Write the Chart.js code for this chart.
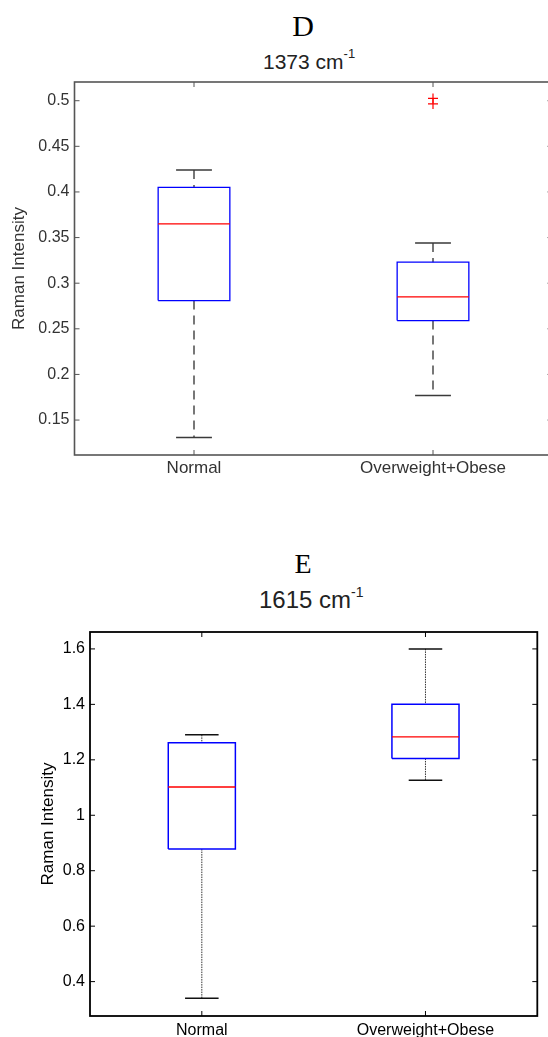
<!DOCTYPE html>
<html>
<head>
<meta charset="utf-8">
<title>Raman Intensity box plots</title>
<script src="https://cdn.jsdelivr.net/npm/chart.js@4.4.0/dist/chart.umd.min.js"></script>
<style>
  html, body { margin: 0; padding: 0; background: #fff; width: 548px; height: 1037px; overflow: hidden; position: relative; }
  canvas { position: absolute; left: 0; }
  #chartD { top: 0; }
  #chartE { top: 540px; }
  .letter { position: absolute; font-family: "Liberation Serif", "Times New Roman", serif; line-height: 1; color: #000; transform: translate(-50%, -50%); white-space: nowrap; }
  .band { position: absolute; font-family: "Liberation Sans", Arial, sans-serif; line-height: 1; white-space: nowrap; color: #222; }
  .band span { position: relative; }
</style>
</head>
<body>
<div class="letter" style="left:303px; top:26px; font-size:30px;">D</div>
<div class="band" style="left:263px; top:50.5px; font-size:21px;">1373 cm<span style="font-size:13px; top:-11px;">-1</span></div>
<canvas id="chartD" width="560" height="500"></canvas>

<div class="letter" style="left:303px; top:564px; font-size:28px;">E</div>
<div class="band" style="left:259px; top:588px; font-size:24px;">1615 cm<span style="font-size:14px; top:-11px;">-1</span></div>
<canvas id="chartE" width="548" height="497"></canvas>

<script>
const groups = ['Normal', 'Overweight+Obese'];

// 1373 cm-1
const lowD = [0.131, 0.177];
const q1D = [0.281, 0.259];
const medD = [0.365, 0.285];
const q3D = [0.405, 0.323];
const highD = [0.424, 0.344];
const outD = [[], [0.4965, 0.5025]];
const ticksD = [0.15, 0.2, 0.25, 0.3, 0.35, 0.4, 0.45, 0.5];

// 1615 cm-1
const lowE = [0.34, 1.126];
const q1E = [0.878, 1.205];
const medE = [1.102, 1.283];
const q3E = [1.262, 1.4];
const highE = [1.29, 1.6];
const outE = [[], []];
const ticksE = [0.4, 0.6, 0.8, 1, 1.2, 1.4, 1.6];

const BOX_HALF = 0.15;
const CAP_HALF = 0.075;

// turn [[x0,y0],[x1,y1]] pairs into one point list, broken by null gaps
function segs(pairs) {
  const pts = [];
  pairs.forEach(([a, b]) => {
    pts.push({x: a[0], y: a[1]}, {x: b[0], y: b[1]}, {x: b[0], y: null});
  });
  return pts;
}

function boxDatasets(low, q1, med, q3, high, out, st) {
  const boxPts = [], medians = [], caps = [], whiskers = [], outliers = [];
  groups.forEach((g, i) => {
    const x = i + 1;
    boxPts.push(
      {x: x - BOX_HALF, y: q1[i]}, {x: x + BOX_HALF, y: q1[i]},
      {x: x + BOX_HALF, y: q3[i]}, {x: x - BOX_HALF, y: q3[i]},
      {x: x - BOX_HALF, y: q1[i]}, {x: x, y: null}
    );
    medians.push([[x - BOX_HALF, med[i]], [x + BOX_HALF, med[i]]]);
    caps.push([[x - CAP_HALF, high[i]], [x + CAP_HALF, high[i]]]);
    caps.push([[x - CAP_HALF, low[i]], [x + CAP_HALF, low[i]]]);
    whiskers.push([[x, high[i]], [x, q3[i]]]);
    whiskers.push([[x, q1[i]], [x, low[i]]]);
    out[i].forEach(v => outliers.push({x: x, y: v}));
  });
  return [
    {data: segs(medians), borderColor: '#ff0000', borderWidth: 1.3},
    {data: boxPts, borderColor: '#0000ff', borderWidth: st.boxWidth, borderJoinStyle: 'miter'},
    {data: segs(caps), borderColor: st.capColor, borderWidth: st.capWidth},
    {data: segs(whiskers), borderColor: st.whiskerColor, borderWidth: st.whiskerWidth, borderDash: st.dash},
    {data: outliers, showLine: false, pointStyle: 'cross', pointRadius: 5, borderColor: '#ff0000', pointBorderColor: '#ff0000', pointBorderWidth: 1.2}
  ];
}

// axes box with inward tick marks on all four sides
const framePlugin = {
  id: 'frame',
  afterDatasetsDraw(chart, args, opts) {
    const {ctx, chartArea: a, scales: {x, y}} = chart;
    ctx.save();
    ctx.strokeStyle = opts.color;
    ctx.lineWidth = opts.tickWidth;
    ctx.beginPath();
    y.ticks.forEach(t => {
      const py = y.getPixelForValue(t.value);
      ctx.moveTo(a.left, py); ctx.lineTo(a.left + opts.tickLength, py);
      ctx.moveTo(a.right, py); ctx.lineTo(a.right - opts.tickLength, py);
    });
    x.ticks.forEach(t => {
      const px = x.getPixelForValue(t.value);
      ctx.moveTo(px, a.bottom); ctx.lineTo(px, a.bottom - opts.tickLength);
      ctx.moveTo(px, a.top); ctx.lineTo(px, a.top + opts.tickLength);
    });
    ctx.stroke();
    ctx.lineWidth = opts.lineWidth;
    ctx.strokeRect(a.left, a.top, a.right - a.left, a.bottom - a.top);
    ctx.restore();
  }
};

function makeChart(id, datasets, cfg) {
  new Chart(document.getElementById(id), {
    type: 'line',
    data: {datasets: datasets},
    plugins: [framePlugin],
    options: {
      responsive: false,
      animation: false,
      events: [],
      layout: {padding: cfg.padding},
      elements: {
        point: {radius: 0},
        line: {tension: 0, fill: false, borderCapStyle: 'butt'}
      },
      plugins: {
        legend: {display: false},
        tooltip: {enabled: false},
        frame: {color: cfg.axisColor, lineWidth: cfg.axisWidth, tickWidth: 1, tickLength: 5}
      },
      scales: {
        x: {
          type: 'linear',
          min: 0.5,
          max: 2.5,
          afterBuildTicks: s => { s.ticks = groups.map((g, i) => ({value: i + 1})); },
          afterFit: s => { s.height = cfg.xHeight; },
          grid: {display: false, drawTicks: false},
          border: {display: false},
          ticks: {
            callback: v => groups[v - 1],
            color: cfg.textColor,
            font: {family: 'Liberation Sans', size: cfg.xFont},
            padding: cfg.xPad,
            maxRotation: 0,
            autoSkip: false
          }
        },
        y: {
          type: 'linear',
          min: cfg.yMin,
          max: cfg.yMax,
          afterBuildTicks: s => { s.ticks = cfg.ticks.map(v => ({value: v})); },
          afterFit: s => { s.width = cfg.yWidth; },
          grid: {display: false, drawTicks: false},
          border: {display: false},
          ticks: {
            callback: v => String(v),
            color: cfg.textColor,
            font: {family: 'Liberation Sans', size: cfg.yFont},
            padding: 5
          },
          title: {
            display: true,
            text: 'Raman Intensity',
            color: cfg.textColor,
            font: {family: 'Liberation Sans', size: 17},
            padding: {top: cfg.titlePad, bottom: 0}
          }
        }
      }
    }
  });
}

makeChart('chartD',
  boxDatasets(lowD, q1D, medD, q3D, highD, outD, {
    boxWidth: 1.3, capColor: '#3a3a3a', capWidth: 1.5,
    whiskerColor: '#555', whiskerWidth: 1.6, dash: [9, 6]
  }), {
    padding: {top: 82, right: 7.5, bottom: 0, left: 0},
    yMin: 0.1117, yMax: 0.5205, ticks: ticksD,
    yWidth: 74.5, xHeight: 45, xPad: 3, xFont: 17, yFont: 16,
    titlePad: 9, textColor: '#333', axisColor: '#555', axisWidth: 1.6
  });

makeChart('chartE',
  boxDatasets(lowE, q1E, medE, q3E, highE, outE, {
    boxWidth: 1.5, capColor: '#111', capWidth: 1.5,
    whiskerColor: '#333', whiskerWidth: 1, dash: [1.5, 1]
  }), {
    padding: {top: 92, right: 10.7, bottom: 0, left: 0},
    yMin: 0.276, yMax: 1.661, ticks: ticksE,
    yWidth: 90, xHeight: 21, xPad: 5, xFont: 16, yFont: 16,
    titlePad: 38, textColor: '#000', axisColor: '#000', axisWidth: 1.8
  });
</script>
</body>
</html>
